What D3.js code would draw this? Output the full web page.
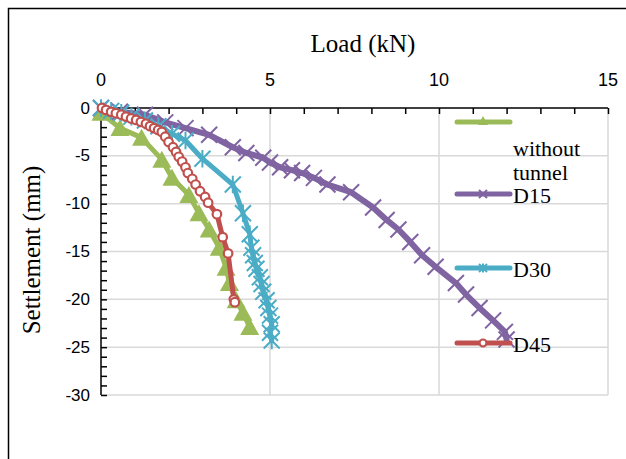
<!DOCTYPE html>
<html><head><meta charset="utf-8">
<script src="https://cdn.jsdelivr.net/npm/d3@7"></script>
<style>body{margin:0;background:#fff}svg{display:block}</style>
</head><body>
<script>
const xTicks = [0, 5, 10, 15];
const yTicks = [0, -5, -10, -15, -20, -25, -30];
const seriesNames = ["without tunnel", "D15", "D30", "D45"];

const loadWithout   = [0, 0.56, 1.2, 1.8, 2.1, 2.6, 2.9, 3.2, 3.5, 3.7, 3.8, 4.0, 4.2, 4.4];
const settleWithout = [-0.5, -2.1, -3.1, -5.4, -7.3, -9.1, -11.0, -12.7, -14.6, -16.7, -18.3, -20.1, -21.4, -22.9];

const loadD15   = [0, 0.56, 1.3, 1.9, 2.5, 3.2, 3.9, 4.3, 4.8, 5.0, 5.3, 5.65, 5.95, 6.3, 6.7, 7.4, 8.05, 8.45, 8.8, 9.15, 9.5, 9.9, 10.5, 10.8, 11.2, 11.6, 11.95, 12.0];
const settleD15 = [0, -0.4, -0.7, -1.5, -2.1, -2.8, -4.1, -4.7, -5.2, -5.7, -6.2, -6.5, -6.8, -7.3, -8.0, -8.8, -10.4, -11.7, -12.7, -14.0, -15.4, -16.6, -18.3, -19.5, -20.9, -22.2, -23.4, -24.2];

const loadD30   = [0, 0.3, 0.6, 0.9, 1.3, 1.7, 2.1, 2.5, 3.0, 3.9, 4.2, 4.4, 4.45, 4.5, 4.55, 4.6, 4.7, 4.75, 4.8, 4.9, 4.95, 5.0, 5.05, 5.0, 5.05];
const settleD30 = [0, -0.3, -0.5, -0.9, -1.3, -1.9, -2.7, -3.4, -5.3, -8.0, -11.0, -13.2, -14.6, -15.4, -16.2, -16.8, -17.7, -18.4, -19.2, -20.1, -20.9, -21.7, -22.6, -23.5, -24.3];

const loadD45   = [0.03, 0.15, 0.3, 0.44, 0.6, 0.74, 0.89, 1.04, 1.18, 1.33, 1.45, 1.57, 1.69, 1.8, 1.9, 2.0, 2.13, 2.22, 2.3, 2.4, 2.5, 2.57, 2.7, 2.8, 2.93, 3.08, 3.17, 3.43, 3.6, 3.76, 3.93, 3.96];
const settleD45 = [0, -0.2, -0.4, -0.55, -0.7, -0.9, -1.1, -1.25, -1.45, -1.65, -1.9, -2.1, -2.3, -2.5, -3.0, -3.55, -4.1, -4.6, -5.1, -5.6, -6.2, -6.8, -7.4, -8.0, -8.7, -9.3, -9.9, -11.1, -13.5, -15.2, -20.0, -20.3];

const colors = {green:"#9BBB59", purple:"#8064A2", cyan:"#4BACC6", red:"#C0504D"};

const W = 626, H = 459;
const svg = d3.select("body").append("svg").attr("width", W).attr("height", H);
svg.append("rect").attr("x",8.5).attr("y",8.5).attr("width",800).attr("height",800)
  .attr("fill","#fff").attr("stroke","#000").attr("stroke-width",1.5);

const x = d3.scaleLinear().domain([0,15]).range([101,608]);
const y = d3.scaleLinear().domain([0,-30]).range([108,395]);

// gridlines
const grid = svg.append("g").attr("stroke","#d9d9d9").attr("stroke-width",1.5);
yTicks.filter(v=>v!==0).forEach(v=>grid.append("line").attr("x1",x(0)).attr("x2",x(15)).attr("y1",y(v)).attr("y2",y(v)));
xTicks.filter(v=>v!==0).forEach(v=>grid.append("line").attr("x1",x(v)).attr("x2",x(v)).attr("y1",y(0)).attr("y2",y(-30)));

// axes
const xAxis = d3.axisBottom(x).tickValues(d3.range(0,16,1)).tickSize(6).tickFormat("");
svg.append("g").attr("transform",`translate(0,${y(0)})`).call(xAxis)
  .call(g=>g.selectAll("line,path").attr("stroke","#000").attr("stroke-width",1.5))
  .call(g=>g.select(".domain").attr("d",`M${x(0)},0H${x(15)}`));
const yAxis = d3.axisRight(y).tickValues(d3.range(0,-31,-1)).tickSize(6).tickFormat("");
svg.append("g").attr("transform",`translate(${x(0)},0)`).call(yAxis)
  .call(g=>g.selectAll("line,path").attr("stroke","#000").attr("stroke-width",1.5))
  .call(g=>g.select(".domain").attr("d",`M0,${y(0)}V${y(-30)}`));

// tick labels
const sans = "'Liberation Sans', Arial, sans-serif";
const serif = "'Liberation Serif', 'Times New Roman', serif";
svg.append("g").selectAll("text").data(xTicks).join("text")
  .attr("x",d=>x(d)).attr("y",80).attr("text-anchor","middle").attr("dominant-baseline","central")
  .attr("font-family",sans).attr("font-size",18).attr("fill","#000").text(d=>d);
svg.append("g").selectAll("text").data(yTicks).join("text")
  .attr("x",90).attr("y",d=>y(d)).attr("text-anchor","end").attr("dominant-baseline","central")
  .attr("font-family",sans).attr("font-size",17).attr("fill","#000").text(d=>d);

// titles
svg.append("text").attr("x",363).attr("y",43).attr("text-anchor","middle").attr("dominant-baseline","central")
  .attr("font-family",serif).attr("font-size",25).text("Load (kN)");
svg.append("text").attr("transform","translate(31,250) rotate(-90)").attr("text-anchor","middle").attr("dominant-baseline","central")
  .attr("font-family",serif).attr("font-size",25).text("Settlement (mm)");

// markers
function triangle(g, cx, cy, color){
  g.append("path").attr("d",`M${cx},${cy-9}L${cx+9.5},${cy+8}L${cx-9.5},${cy+8}Z`).attr("fill",color);
}
function cross(g, cx, cy, color, s){
  g.append("path").attr("d",`M${cx-s},${cy-s}L${cx+s},${cy+s}M${cx-s},${cy+s}L${cx+s},${cy-s}`)
    .attr("stroke",color).attr("stroke-width",2).attr("fill","none");
}
function star(g, cx, cy, color, s){
  g.append("path").attr("d",`M${cx-s},${cy-s}L${cx+s},${cy+s}M${cx-s},${cy+s}L${cx+s},${cy-s}M${cx},${cy-s*1.1}V${cy+s*1.1}`)
    .attr("stroke",color).attr("stroke-width",2).attr("fill","none");
}
function circle(g, cx, cy, color, r){
  g.append("circle").attr("cx",cx).attr("cy",cy).attr("r",r).attr("fill","#fff").attr("stroke",color).attr("stroke-width",2.2);
}

const line = d3.line().x(d=>x(d[0])).y(d=>y(d[1]));
function drawSeries(loads, settles, color, width, markerFn){
  const pts = loads.map((l,i)=>[l, settles[i]]);
  const g = svg.append("g");
  g.append("path").attr("d",line(pts)).attr("fill","none").attr("stroke",color)
    .attr("stroke-width",width).attr("stroke-linejoin","round").attr("stroke-linecap","round");
  pts.forEach(p=>markerFn(g, x(p[0]), y(p[1]), color));
}
drawSeries(loadWithout, settleWithout, colors.green, 5, triangle);
drawSeries(loadD15, settleD15, colors.purple, 6, (g,cx,cy,c)=>cross(g,cx,cy,c,8));
drawSeries(loadD30, settleD30, colors.cyan, 5, (g,cx,cy,c)=>star(g,cx,cy,c,8));
drawSeries(loadD45, settleD45, colors.red, 5, (g,cx,cy,c)=>circle(g,cx,cy,c,4.3));

// legend
const lg = svg.append("g");
const legendItems = [
  {name: seriesNames[0], color: colors.green, ly: 122, marker: (g,cx,cy,c)=>g.append("path").attr("d",`M${cx},${cy-6}L${cx+5},${cy+3}L${cx-5},${cy+3}Z`).attr("fill",c)},
  {name: seriesNames[1], color: colors.purple, ly: 194, marker: (g,cx,cy,c)=>cross(g,cx,cy,c,4)},
  {name: seriesNames[2], color: colors.cyan, ly: 268, marker: (g,cx,cy,c)=>star(g,cx,cy,c,4)},
  {name: seriesNames[3], color: colors.red, ly: 343, marker: (g,cx,cy,c)=>circle(g,cx,cy,c,3.5)}
];
legendItems.forEach((it,i)=>{
  lg.append("line").attr("x1",457).attr("x2",510).attr("y1",it.ly).attr("y2",it.ly)
    .attr("stroke",it.color).attr("stroke-width",5).attr("stroke-linecap","round");
  it.marker(lg, 483, it.ly, it.color);
  if(i===0){
    const words = it.name.split(" ");
    lg.append("text").attr("x",513).attr("y",148).attr("dominant-baseline","central").attr("font-family",serif).attr("font-size",22).text(words[0]);
    lg.append("text").attr("x",513).attr("y",172).attr("dominant-baseline","central").attr("font-family",serif).attr("font-size",22).text(words[1]);
  } else {
    lg.append("text").attr("x",513).attr("y",it.ly+1).attr("dominant-baseline","central").attr("font-family",serif).attr("font-size",22).text(it.name);
  }
});
</script>
</body></html>
